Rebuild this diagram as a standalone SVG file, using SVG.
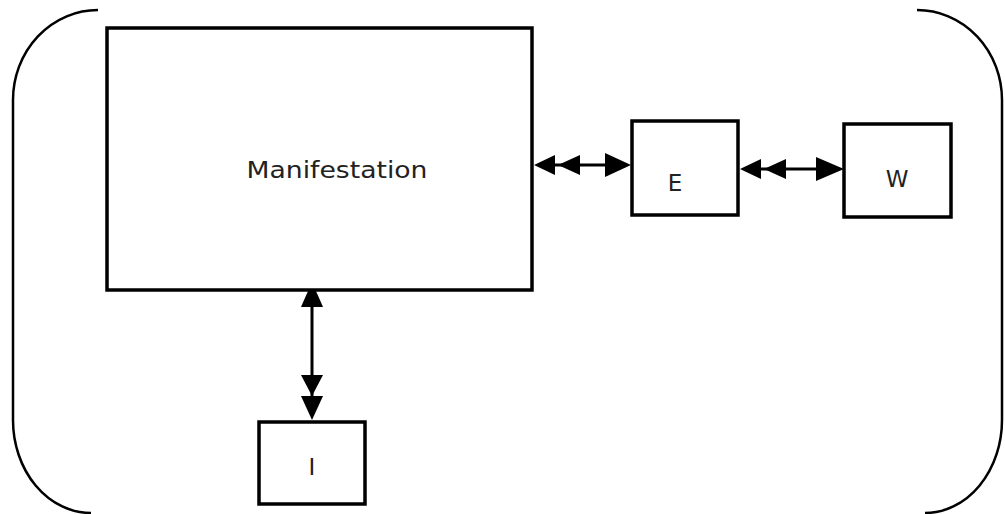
<svg xmlns="http://www.w3.org/2000/svg" width="1005" height="514" viewBox="0 0 1005 514">
<defs>
<style>
.box{fill:#fff;stroke:#000;stroke-width:3.5}
.frame{fill:none;stroke:#000;stroke-width:2.5}
.lbl{font-family:"DejaVu Sans",sans-serif;font-size:23px;fill:#222;text-anchor:middle}
.ln{stroke:#000;stroke-width:3;fill:none}
.ah{fill:#000}
</style>
</defs>
<rect width="1005" height="514" fill="#fff"/>
<g id="frame">
<path class="frame" d="M98,10 A85,90 0 0 0 13,100 L13,420 A78,93 0 0 0 91,513"/>
<path class="frame" d="M917,10 A85,90 0 0 1 1002,100 L1002,420 A77,93 0 0 1 925,513"/>
</g>
<g id="connectors">
<line class="ln" x1="540" y1="165" x2="612" y2="165"/>
<polygon class="ah" points="534,165 555,155 555,175"/>
<polygon class="ah" points="558,165 580,155 580,175"/>
<polygon class="ah" points="631,165 605,153 605,177"/>
<line class="ln" x1="746" y1="169" x2="825" y2="169"/>
<polygon class="ah" points="740,169 761,159 761,179"/>
<polygon class="ah" points="764,169 786,159 786,179"/>
<polygon class="ah" points="844,169 816,157 816,181"/>
<line class="ln" x1="312" y1="300" x2="312" y2="400"/>
<polygon class="ah" points="312,282 301,307 323,307"/>
<polygon class="ah" points="312,396 301,375 323,375"/>
<polygon class="ah" points="312,420 301,396 323,396"/>
</g>
<g id="manifestation">
<rect class="box" x="107" y="28" width="425" height="262"/>
<text class="lbl" x="337" y="178" textLength="181" lengthAdjust="spacingAndGlyphs">Manifestation</text>
</g>
<g id="E">
<rect class="box" x="632" y="121" width="106" height="94"/>
<text class="lbl" x="675" y="191">E</text>
</g>
<g id="W">
<rect class="box" x="844" y="124" width="107" height="93"/>
<text class="lbl" x="897" y="187">W</text>
</g>
<g id="I">
<rect class="box" x="259" y="422" width="106" height="82"/>
<text class="lbl" x="312" y="475">I</text>
</g>
</svg>
